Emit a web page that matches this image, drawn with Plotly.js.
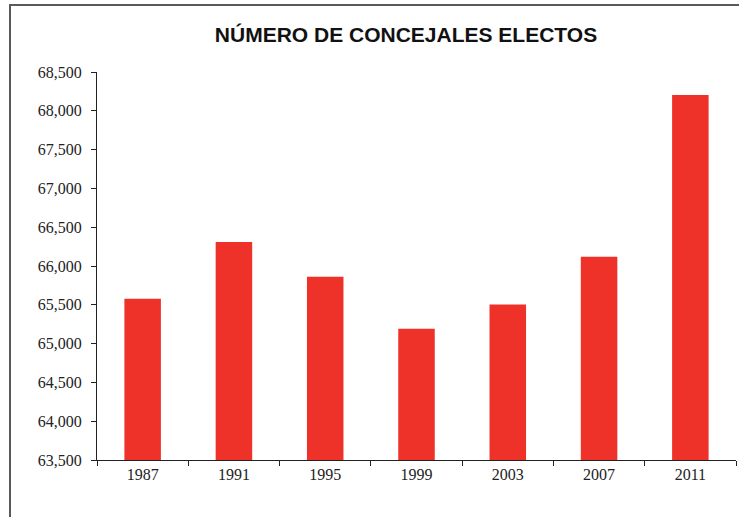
<!DOCTYPE html>
<html>
<head>
<meta charset="utf-8">
<script src="https://cdn.plot.ly/plotly-3.0.1.min.js"></script>
<style>
html,body{margin:0;padding:0;background:#fff;overflow:hidden;}
#wrap{position:relative;width:739px;height:517px;}
#chart{width:739px;height:517px;}
#frame{position:absolute;left:9px;top:4px;width:760px;height:560px;border-top:2px solid #5a5a5a;border-left:2px solid #5a5a5a;pointer-events:none;}
</style>
</head>
<body>
<div id="wrap"><div id="chart"></div><div id="frame"></div></div>
<script>
const years = ['1987', '1991', '1995', '1999', '2003', '2007', '2011'];
const concejales = [65577, 66308, 65860, 65190, 65505, 66120, 68205];
const yTicks = [63500, 64000, 64500, 65000, 65500, 66000, 66500, 67000, 67500, 68000, 68500];
const titleText = 'NÚMERO DE CONCEJALES ELECTOS';

const L = 97, R = 736, T = 72, B = 460;

const serif = {family: 'Liberation Serif', size: 16, color: '#222222'};

const trace = {
  type: 'bar',
  x: years,
  y: concejales,
  marker: {color: '#ee3229', line: {width: 0}},
  hoverinfo: 'x+y'
};

const layout = {
  width: 739, height: 517,
  margin: {l: L, r: 739 - R, t: T, b: 517 - B, pad: 0},
  paper_bgcolor: '#ffffff',
  plot_bgcolor: '#ffffff',
  showlegend: false,
  bargap: 0.6,
  title: {
    text: '<b>' + titleText + '</b>',
    font: {family: 'Liberation Sans', size: 21, color: '#111111'},
    x: 406 / 739, xref: 'container', xanchor: 'center',
    y: 1 - 35 / 517, yref: 'container', yanchor: 'middle'
  },
  xaxis: {
    type: 'category',
    showline: true, linecolor: '#222222', linewidth: 1,
    ticks: 'outside', ticklen: 5, tickcolor: '#222222', tickwidth: 1,
    tickson: 'boundaries',
    showgrid: false, zeroline: false,
    tickfont: serif,
    fixedrange: true
  },
  yaxis: {
    range: [63500, 68500],
    tickvals: yTicks,
    ticktext: yTicks.map(v => v.toLocaleString('en-US')),
    showline: true, linecolor: '#222222', linewidth: 1,
    ticks: 'outside', ticklen: 5, tickcolor: '#222222', tickwidth: 1,
    ticklabelstandoff: 6,
    showgrid: false, zeroline: false,
    tickfont: serif,
    fixedrange: true
  }
};

Plotly.newPlot('chart', [trace], layout, {displayModeBar: false, staticPlot: true});
</script>
</body>
</html>
